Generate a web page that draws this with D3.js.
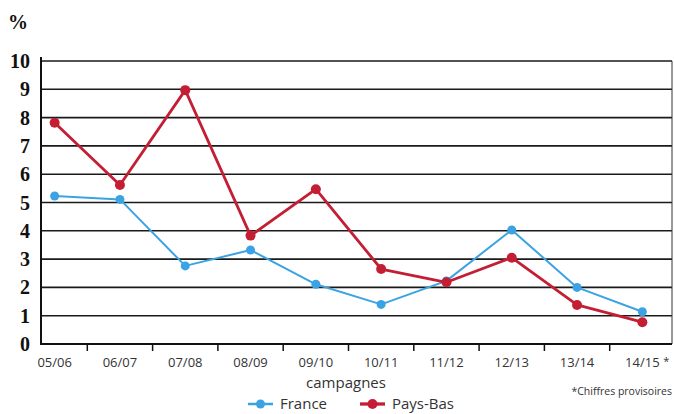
<!DOCTYPE html>
<html>
<head>
<meta charset="utf-8">
<script src="https://cdn.jsdelivr.net/npm/d3@7"></script>
<style>
  body { margin: 0; background: #fff; }
  svg { display: block; }
</style>
</head>
<body>
<svg id="chart"></svg>
<script>
// data
var campagnes = ["05/06", "06/07", "07/08", "08/09", "09/10", "10/11", "11/12", "12/13", "13/14", "14/15"];
var france   = [5.23, 5.11, 2.76, 3.32, 2.11, 1.40, 2.23, 4.03, 2.00, 1.14];
var paysBas  = [7.82, 5.62, 8.97, 3.83, 5.47, 2.65, 2.18, 3.05, 1.38, 0.77];
var yTicks   = [0, 1, 2, 3, 4, 5, 6, 7, 8, 9, 10];

var screen = { width: 674, height: 414 };
var frame = { left: 41, right: 672, top: 61, bottom: 344 };

var blue = "#3ba3e3";
var red = "#c41e34";

var svg = d3.select("#chart")
  .attr("width", screen.width)
  .attr("height", screen.height);

var xScale = d3.scaleBand()
  .domain(campagnes)
  .range([22, 675]);

var yScale = d3.scaleLinear()
  .domain([0, 10])
  .range([frame.bottom, frame.top]);

// horizontal grid lines
svg.append("g")
  .selectAll("line")
  .data(yTicks.slice(1))
  .enter()
  .append("line")
  .attr("x1", frame.left)
  .attr("x2", frame.right)
  .attr("y1", function(d){ return yScale(d); })
  .attr("y2", function(d){ return yScale(d); })
  .style("stroke", "#1a1a1a")
  .style("stroke-width", 1.6);

// left and right borders
svg.append("line")
  .attr("x1", frame.left).attr("x2", frame.left)
  .attr("y1", frame.top - 4).attr("y2", frame.bottom)
  .style("stroke", "#111").style("stroke-width", 2);
svg.append("line")
  .attr("x1", frame.right).attr("x2", frame.right)
  .attr("y1", frame.top).attr("y2", frame.bottom)
  .style("stroke", "#333").style("stroke-width", 1);

// y tick labels (bold serif)
svg.append("g")
  .selectAll("text")
  .data(yTicks)
  .enter()
  .append("text")
  .attr("x", 30)
  .attr("y", function(d){ return yScale(d); })
  .attr("dy", "0.35em")
  .attr("text-anchor", "end")
  .style("font-family", "'Liberation Serif', 'DejaVu Serif', serif")
  .style("font-weight", "bold")
  .style("font-size", "20px")
  .style("fill", "#111")
  .text(function(d){ return d; });

svg.append("text")
  .attr("x", 8)
  .attr("y", 29)
  .style("font-family", "'Liberation Serif', serif")
  .style("font-weight", "bold")
  .style("font-size", "20px")
  .style("fill", "#111")
  .text("%");

// x axis: baseline plus ticks at band boundaries
var xAxis = d3.axisBottom(xScale).tickSize(0).tickFormat("");
var xAxisG = svg.append("g")
  .attr("transform", "translate(0," + frame.bottom + ")");

xAxisG.append("line")
  .attr("x1", frame.left - 1).attr("x2", frame.right)
  .style("stroke", "#111").style("stroke-width", 2);

xAxisG.selectAll(".sep")
  .data(campagnes.slice(1))
  .enter()
  .append("line")
  .attr("x1", function(d){ return xScale(d); })
  .attr("x2", function(d){ return xScale(d); })
  .attr("y1", 0).attr("y2", 7)
  .style("stroke", "#111").style("stroke-width", 1.5);

xAxisG.selectAll(".lbl")
  .data(campagnes)
  .enter()
  .append("text")
  .attr("x", function(d){ return xScale(d) + xScale.bandwidth() / 2; })
  .attr("y", 23)
  .attr("text-anchor", "middle")
  .style("font-family", "'Open Sans', 'DejaVu Sans', sans-serif")
  .style("font-size", "13px")
  .style("fill", "#333")
  .text(function(d){ return d; });

svg.append("text")
  .attr("x", xScale("14/15") + xScale.bandwidth() / 2 + 21)
  .attr("y", frame.bottom + 21)
  .style("font-family", "'Open Sans', sans-serif")
  .style("font-size", "11px")
  .style("fill", "#333")
  .text("*");

svg.append("text")
  .attr("x", 346)
  .attr("y", 388)
  .attr("text-anchor", "middle")
  .style("font-family", "'Open Sans', 'DejaVu Sans', sans-serif")
  .style("font-size", "15px")
  .style("fill", "#333")
  .text("campagnes");

svg.append("text")
  .attr("x", 672)
  .attr("y", 395)
  .attr("text-anchor", "end")
  .style("font-family", "'Open Sans', 'DejaVu Sans', sans-serif")
  .style("font-size", "10.5px")
  .style("fill", "#333")
  .text("*Chiffres provisoires");

// series
var series = [
  { name: "France", values: france, color: blue, width: 2, r: 4.5 },
  { name: "Pays-Bas", values: paysBas, color: red, width: 2.8, r: 5 }
];

var line = d3.line()
  .x(function(d, i){ return xScale(campagnes[i]) + xScale.bandwidth() / 2; })
  .y(function(d){ return yScale(d); });

series.forEach(function(s){
  var g = svg.append("g");
  g.append("path")
    .datum(s.values)
    .attr("d", line)
    .attr("fill", "none")
    .style("stroke", s.color)
    .style("stroke-width", s.width)
    .style("stroke-linejoin", "round");
  g.selectAll("circle")
    .data(s.values)
    .enter()
    .append("circle")
    .attr("cx", function(d, i){ return xScale(campagnes[i]) + xScale.bandwidth() / 2; })
    .attr("cy", function(d){ return yScale(d); })
    .attr("r", s.r)
    .attr("fill", s.color);
});

// legend
var legend = svg.append("g")
  .style("font-family", "'Open Sans', 'DejaVu Sans', sans-serif")
  .style("font-size", "15px");

var legendItems = [
  { s: series[0], x: 248 },
  { s: series[1], x: 360 }
];

legendItems.forEach(function(item){
  var lg = legend.append("g").attr("transform", "translate(" + item.x + ",404)");
  lg.append("line")
    .attr("x1", 0).attr("x2", 25)
    .style("stroke", item.s.color)
    .style("stroke-width", item.s.width + 0.5);
  lg.append("circle")
    .attr("cx", 12.5).attr("cy", 0).attr("r", item.s.r)
    .attr("fill", item.s.color);
  lg.append("text")
    .attr("x", 32)
    .attr("y", 0)
    .attr("dy", "0.35em")
    .style("fill", "#333")
    .text(item.s.name);
});
</script>
</body>
</html>
